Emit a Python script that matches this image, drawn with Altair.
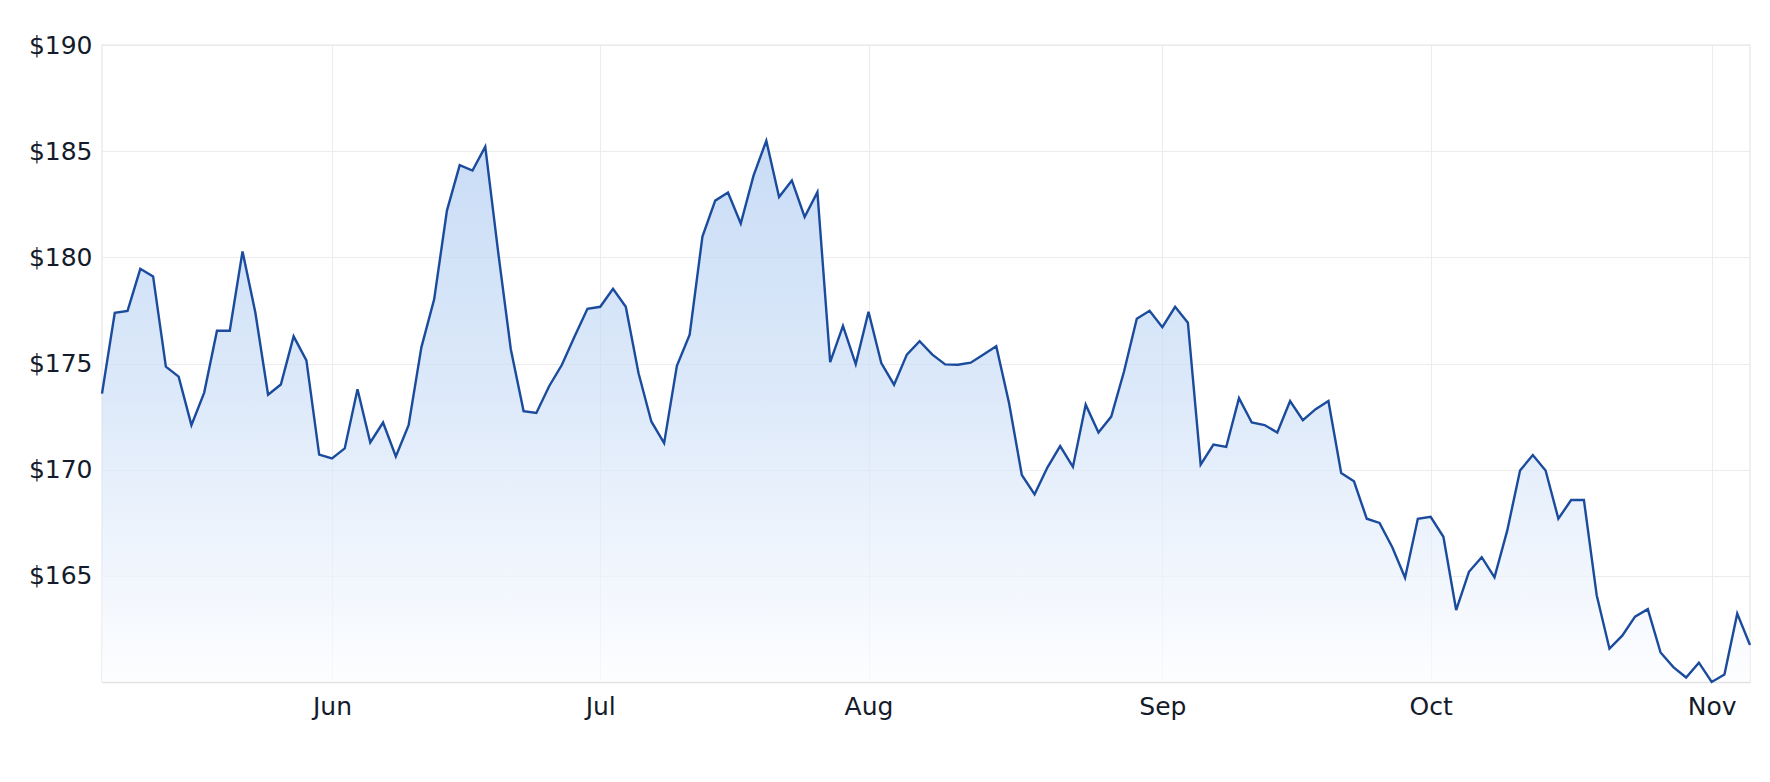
import altair as alt
import pandas as pd

# Closing prices, one per trading day (index 0 .. 129)
prices = [
    173.58, 177.39, 177.48, 179.46, 179.10, 174.85, 174.38, 172.10, 173.63, 176.54,
    176.54, 180.28, 177.41, 173.53, 174.01, 176.28, 175.15, 170.71, 170.53, 171.00,
    173.79, 171.28, 172.22, 170.62, 172.10, 175.76, 178.02, 182.20, 184.34, 184.09,
    185.21, 180.30, 175.67, 172.76, 172.67, 173.93, 174.94, 176.28, 177.58, 177.67,
    178.52, 177.67, 174.54, 172.27, 171.25, 174.89, 176.36, 180.98, 182.67, 183.05,
    181.59, 183.85, 185.49, 182.84, 183.62, 181.90, 183.07, 175.06, 176.77, 174.97,
    177.44, 175.02, 174.00, 175.42, 176.05, 175.42, 174.96, 174.94, 175.04, 175.42,
    175.81, 173.14, 169.75, 168.84, 170.10, 171.11, 170.13, 173.06, 171.75, 172.50,
    174.62, 177.11, 177.48, 176.71, 177.67, 176.92, 170.24, 171.18, 171.07, 173.37,
    172.22, 172.10, 171.75, 173.23, 172.33, 172.85, 173.23, 169.84, 169.45, 167.69,
    167.49, 166.35, 164.91, 167.69, 167.78, 166.84, 163.39, 165.19, 165.88, 164.93,
    167.14, 169.96, 170.69, 169.96, 167.69, 168.57, 168.57, 164.09, 161.57, 162.18,
    163.08, 163.43, 161.39, 160.70, 160.21, 160.91, 160.00, 160.35, 163.22, 161.74,
]
day_index = list(range(len(prices)))

# First trading day of each month (position in the series) and its label
month_tick_index = [18, 39, 60, 83, 104, 126]
month_labels = ["Jun", "Jul", "Aug", "Sep", "Oct", "Nov"]

y_ticks = [165, 170, 175, 180, 185, 190]
y_floor = 160

df = pd.DataFrame({"day": day_index, "price": prices})

label_expr = " : ".join(
    f"datum.value == {i} ? '{m}'" for i, m in zip(month_tick_index, month_labels)
) + " : ''"

gradient = alt.Gradient(
    gradient="linear",
    stops=[
        alt.GradientStop(color="#b2cef2", offset=0),
        alt.GradientStop(color="#cddff7", offset=0.45),
        alt.GradientStop(color="#fcfdff", offset=1),
    ],
    x1=1, x2=1, y1=0, y2=1,
)

FONT = "DejaVu Sans"
TEXT = "#141b2b"

chart = (
    alt.Chart(df)
    .mark_area(
        color=gradient,
        line={"color": "#1a4b9c", "strokeWidth": 2.4},
    )
    .encode(
        x=alt.X(
            "day:Q",
            scale=alt.Scale(domain=[0, len(prices) - 1], nice=False, zero=False),
            axis=alt.Axis(
                values=month_tick_index,
                labelExpr=label_expr,
                title=None,
                grid=True,
                gridColor="#ececec",
                ticks=False,
                domain=True,
                domainColor="#e2e2e2",
                domainWidth=1.5,
                labelPadding=12,
                labelFontSize=25,
                labelFont=FONT,
                labelColor=TEXT,
            ),
        ),
        y=alt.Y(
            "price:Q",
            scale=alt.Scale(domain=[y_floor, 190], nice=False, zero=False),
            axis=alt.Axis(
                values=y_ticks,
                labelExpr="'$' + datum.value",
                title=None,
                grid=True,
                gridColor="#ececec",
                ticks=False,
                domain=False,
                labelPadding=10,
                labelFontSize=25,
                labelFont=FONT,
                labelColor=TEXT,
            ),
        ),
        y2=alt.Y2(datum=y_floor),
    )
    .properties(
        width=1648,
        height=637,
        autosize=alt.AutoSizeParams(type="none"),
        padding={"left": 94, "top": 37, "right": 12, "bottom": 70},
    )
    .configure_view(stroke="#ececec", strokeWidth=1.5)
)

chart.save("out.html", embed_options={"renderer": "svg", "actions": False})
